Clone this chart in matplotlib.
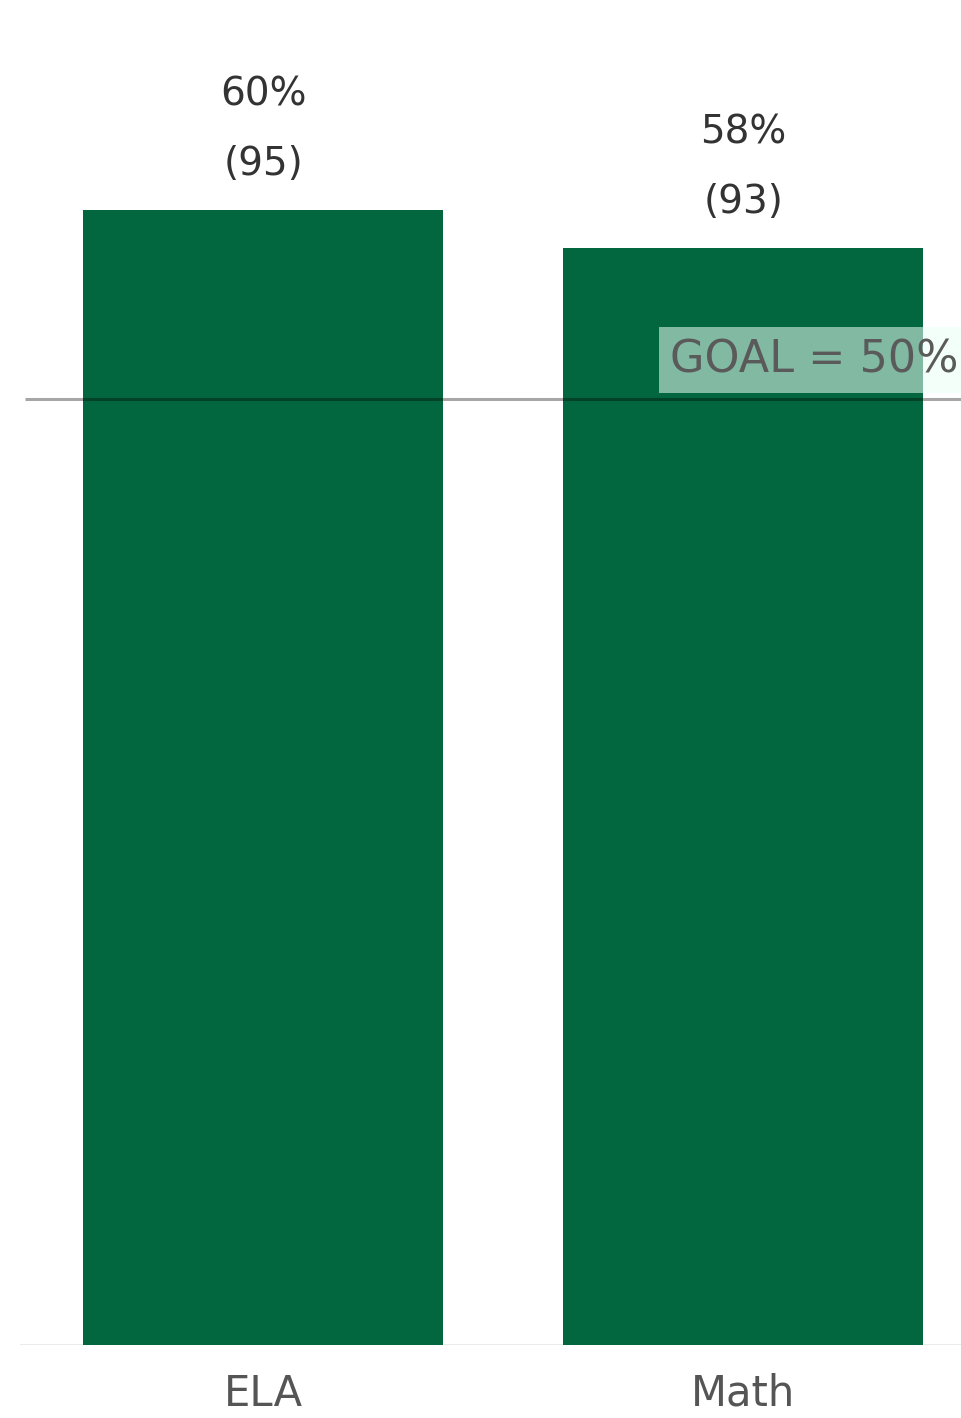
import matplotlib.pyplot as plt

# Share of students meeting the goal, by subject
subjects = ['ELA', 'Math']
pct_met = [60, 58]
n_met = [95, 93]
goal = 50

bar_color = '#02663f'

plt.rcParams['font.family'] = ['DejaVu Sans']

fig = plt.figure(figsize=(9.62, 14.18), dpi=100)
ax = fig.add_axes([0, 73 / 1418, 1, 1345 / 1418])

x = list(range(len(subjects)))
ax.bar(x, pct_met, width=0.75, color=bar_color, zorder=2)

# value labels above each bar: percent on top, count below
for xi, p, n in zip(x, pct_met, n_met):
    ax.annotate(f'{p}%', (xi, p), xytext=(0, 83), textcoords='offset points',
                ha='center', va='center', fontsize=28, color='#333333', zorder=4)
    ax.annotate(f'({n})', (xi, p), xytext=(0, 33), textcoords='offset points',
                ha='center', va='center', fontsize=28, color='#333333', zorder=4)

# baseline and goal line
ax.hlines(0, -0.506, 1.46, color='#e6e6e6', lw=1.2, zorder=1)
ax.hlines(goal, -0.496, 1.46, color='black', alpha=0.35, lw=2.2, zorder=3)
ax.text(0.848, goal + 2.05, f'GOAL = {goal}%', ha='left', va='center',
        fontsize=32, color='#5a5a5a', zorder=4,
        bbox=dict(boxstyle='square,pad=0.26', fc='#eafff5', ec='none', alpha=0.55))

ax.set_xlim(-0.548, 1.456)
ax.set_ylim(0, 71.1)
ax.set_xticks(x)
ax.set_xticklabels(subjects, fontsize=30, color='#555555')
ax.tick_params(axis='x', length=0, pad=20)
ax.set_yticks([])
for s in ax.spines.values():
    s.set_visible(False)

fig.savefig('out.png', dpi=100)
